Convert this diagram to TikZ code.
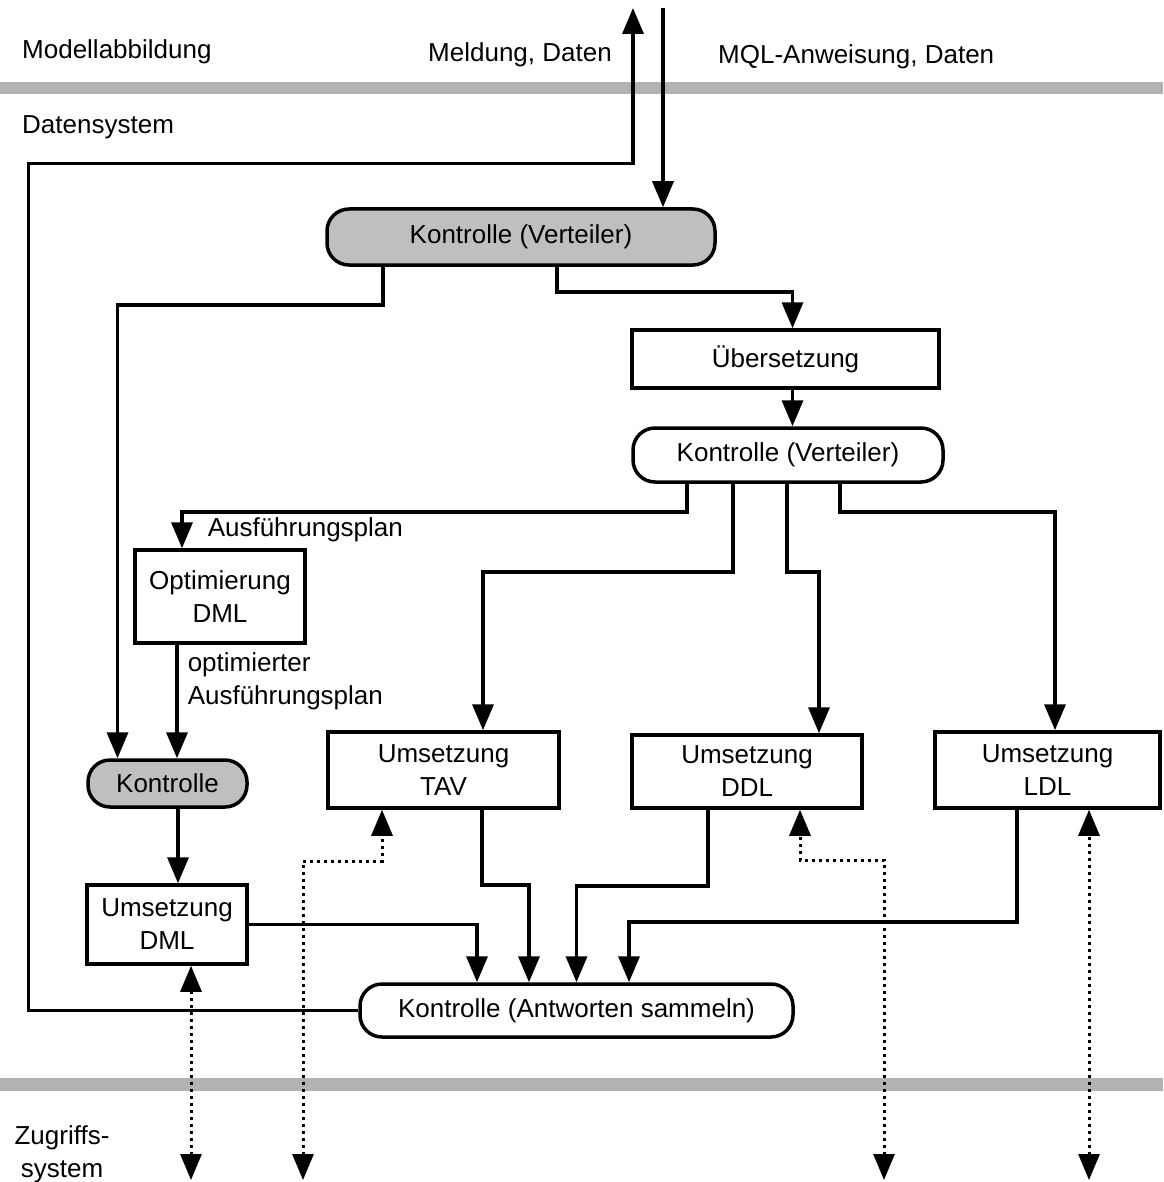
\documentclass[tikz,border=0pt]{standalone}
\usepackage{fontspec}
\setmainfont{Liberation Sans}
\usetikzlibrary{arrows.meta}

\begin{document}
\begin{tikzpicture}[
    x=1pt, y=-1pt,
    font=\fontsize{26}{33}\selectfont,
    proc block/.style={
      rectangle,
      draw=black,
      line width=3.5pt,
      fill=white,
      align=center,
      inner sep=0pt
    },
    ctrl block/.style={
      proc block,
      rounded corners=22pt
    },
    shaded/.style={fill=black!25},
    layer band/.style={fill=black!30},
    note/.style={inner sep=0pt},
    flow arrow/.style={
      -{Triangle[length=26pt,width=21pt]},
      line width=3.5pt,
      color=black
    },
    access arrow/.style={
      {Triangle[length=26pt,width=21pt]}-{Triangle[length=26pt,width=21pt]},
      line width=3pt,
      dash pattern=on 2.5pt off 4.5pt
    }
  ]

    \useasboundingbox (0,0) rectangle (1163,1182);

    % layer boundaries
    \fill[layer band] (0,82) rectangle (1163,94);
    \fill[layer band] (0,1078) rectangle (1163,1091);

    \node[note, anchor=west] (lmod) at (22,52) {Modellabbildung};
    \node[note, anchor=west] (ldat) at (22,127) {Datensystem};
    \node[note, anchor=east] (lmeld) at (612,55) {Meldung, Daten};
    \node[note, anchor=west] (lmql) at (718,57) {MQL-Anweisung, Daten};
    \node[note, align=center] (lzug) at (62,1154) {Zugriffs-\\system};

    % blocks
    \node[ctrl block, shaded, minimum width=388pt, minimum height=56pt] (kv1) at (521,237) {Kontrolle (Verteiler)};
    \node[proc block, minimum width=307pt, minimum height=58pt] (ueb) at (785.5,359) {Übersetzung};
    \node[ctrl block, minimum width=310pt, minimum height=54pt] (kv2) at (788,455) {Kontrolle (Verteiler)};
    \node[proc block, minimum width=170pt, minimum height=93pt] (opt) at (220,596.5) {Optimierung\\DML};
    \node[ctrl block, shaded, minimum width=159pt, minimum height=47pt] (kon) at (167.5,783.5) {Kontrolle};
    \node[proc block, minimum width=160pt, minimum height=79pt] (udml) at (167,924.5) {Umsetzung\\DML};
    \node[proc block, minimum width=231pt, minimum height=76pt] (utav) at (443.5,770) {Umsetzung\\TAV};
    \node[proc block, minimum width=230pt, minimum height=73pt] (uddl) at (747,771.5) {Umsetzung\\DDL};
    \node[proc block, minimum width=225pt, minimum height=76pt] (uldl) at (1047.5,770) {Umsetzung\\LDL};
    \node[ctrl block, minimum width=433pt, minimum height=53pt] (kant) at (576.5,1010.5) {Kontrolle (Antworten sammeln)};

    % statement in, answer out
    \coordinate (cmd) at (663,8);
    \coordinate (ret) at (633,8);
    \draw[flow arrow] (cmd) -- (cmd |- kv1.north);
    \draw[flow arrow] (kant.west) -- ++(-330,0) -- ++(0,-847) -| (ret);

    % first distributor
    \draw[flow arrow] ([xshift=-138pt]kv1.south) -- ++(0,38) -| ([xshift=-50pt]kon.north);
    \draw[flow arrow] ([xshift=36pt]kv1.south) -- ++(0,25) -| ([xshift=7pt]ueb.north);
    \draw[flow arrow] ([xshift=7pt]ueb.south) -- ([xshift=7pt]ueb.south |- kv2.north);

    % second distributor
    \draw[flow arrow] ([xshift=-101pt]kv2.south) -- ++(0,28) -| ([xshift=-38pt]opt.north)
      node[note, pos=0.75, right=24pt] (lplan) {Ausführungsplan};
    \draw[flow arrow] ([xshift=-55pt]kv2.south) -- ++(0,88) -| ([xshift=39.5pt]utav.north);
    \draw[flow arrow] ([xshift=-1pt]kv2.south) -- ++(0,88) -| ([xshift=72pt]uddl.north);
    \draw[flow arrow] ([xshift=52pt]kv2.south) -- ++(0,28) -| ([xshift=7.5pt]uldl.north);

    % DML path
    \draw[flow arrow] ([xshift=-43pt]opt.south) -- ([xshift=-43pt]opt.south |- kon.north)
      node[note, pos=0.32, right=9pt, align=left] (loptplan) {optimierter\\Ausführungsplan};
    \draw[flow arrow] ([xshift=10.5pt]kon.south) -- ([xshift=10.5pt]kon.south |- udml.north);

    % answers
    \draw[flow arrow] (udml.east) -| ([xshift=-99.5pt]kant.north);
    \draw[flow arrow] ([xshift=38.5pt]utav.south) -- ++(0,75) -| ([xshift=-47.5pt]kant.north);
    \draw[flow arrow] ([xshift=-39pt]uddl.south) -- ++(0,76) -| (kant.north);
    \draw[flow arrow] ([xshift=-30.5pt]uldl.south) -- ++(0,112) -| ([xshift=52.5pt]kant.north);

    % access system
    \coordinate (z1) at (191,1180);
    \coordinate (z2) at (303,1180);
    \coordinate (z3) at (884,1180);
    \coordinate (z4) at (1089,1180);
    \draw[access arrow] (z1) -- (z1 |- udml.south);
    \draw[access arrow] (z2) -- ++(0,-319) -| ([xshift=-61.5pt]utav.south);
    \draw[access arrow] (z3) -- ++(0,-320) -| ([xshift=53pt]uddl.south);
    \draw[access arrow] (z4) -- (z4 |- uldl.south);

  \end{tikzpicture}
\end{document}
